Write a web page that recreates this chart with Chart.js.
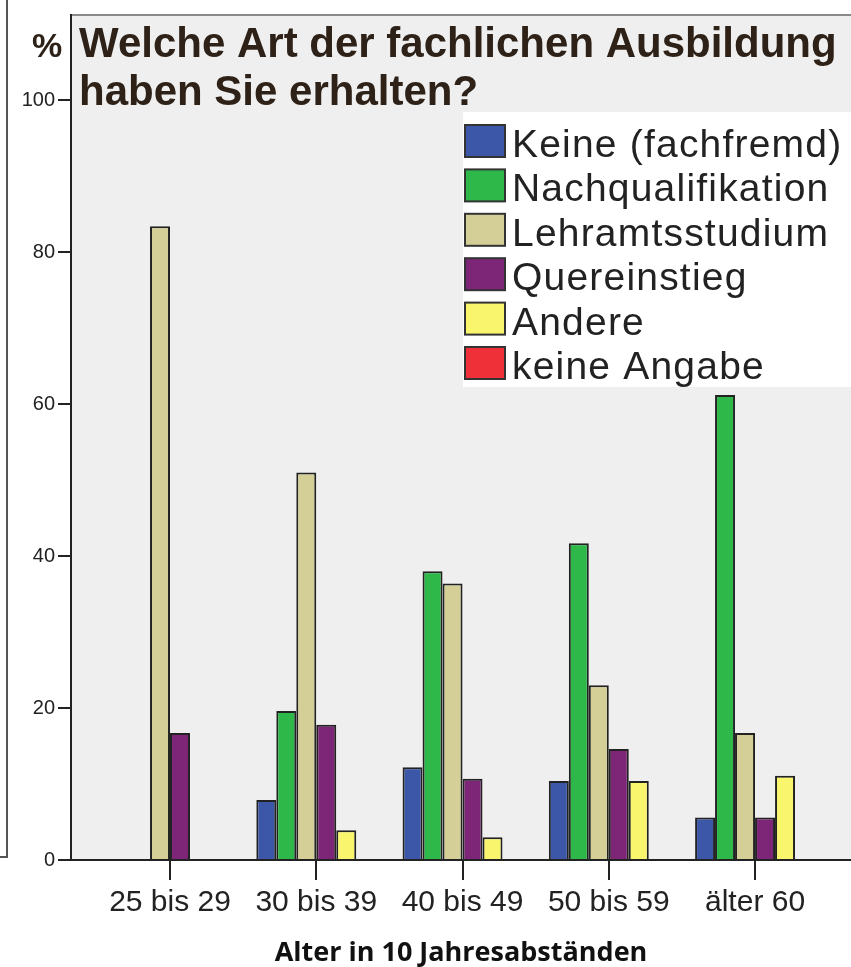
<!DOCTYPE html>
<html>
<head>
<meta charset="utf-8">
<script src="https://cdn.jsdelivr.net/npm/chart.js@4/dist/chart.umd.min.js"></script>
<style>
  body { margin: 0; background: #fff; }
  #wrap { position: relative; width: 851px; height: 967px; overflow: hidden; }
  #side { position: absolute; left: -10px; top: -10px; width: 14px; height: 864px; border: 2px solid #555; background: #fff; }
</style>
</head>
<body>
<div id="wrap">
  <div id="side"></div>
  <canvas id="chart" width="851" height="967"></canvas>
</div>
<script>
const categories = ['25 bis 29', '30 bis 39', '40 bis 49', '50 bis 59', 'älter 60'];
const seriesNames = ['Keine (fachfremd)', 'Nachqualifikation', 'Lehramtsstudium', 'Quereinstieg', 'Andere', 'keine Angabe'];
const keine = [0, 7.9, 12.2, 10.4, 5.6];
const nachqual = [0, 19.6, 38.0, 41.7, 61.2];
const lehramt = [83.4, 51.0, 36.4, 23.0, 16.7];
const quer = [16.7, 17.8, 10.7, 14.6, 5.6];
const andere = [0, 3.9, 3.0, 10.4, 11.1];
const keineAngabe = [0, 0, 0, 0, 0];
const yTicks = [0, 20, 40, 60, 80, 100];
const colors = ['#3c57a8', '#2eb84a', '#d3cf97', '#7d2677', '#f9f66e', '#ef3039'];

const allSeries = [keine, nachqual, lehramt, quer, andere, keineAngabe];

// plot background + top frame
const bgPlugin = {
    id: 'bg',
    beforeDraw(chart) {
        const { ctx, chartArea: a } = chart;
        ctx.save();
        ctx.fillStyle = '#efefef';
        ctx.fillRect(a.left, a.top, a.right - a.left, a.bottom - a.top);
        ctx.strokeStyle = '#8a8a8a';
        ctx.lineWidth = 2;
        ctx.beginPath();
        ctx.moveTo(a.left, a.top);
        ctx.lineTo(a.right, a.top);
        ctx.stroke();
        ctx.restore();
    }
};

// title and legend box drawn over the plot
const overlayPlugin = {
    id: 'overlay',
    afterDraw(chart) {
        const ctx = chart.ctx;
        ctx.save();
        ctx.fillStyle = '#2e2218';
        ctx.textBaseline = 'alphabetic';
        ctx.font = 'bold 34px "Liberation Sans", Arial, sans-serif';
        ctx.fillText('%', 32, 57);
        ctx.font = 'bold 42px "Liberation Sans", Arial, sans-serif';
        ctx.fillText('Welche Art der fachlichen Ausbildung', 79, 57);
        ctx.fillText('haben Sie erhalten?', 79, 105);

        ctx.fillStyle = '#ffffff';
        ctx.fillRect(463, 112, 388, 275);
        ctx.font = '39px "Liberation Sans", Arial, sans-serif';
        ctx.letterSpacing = '1.2px';
        chart.data.datasets.forEach((ds, i) => {
            const y = 125 + i * 44.4;
            ctx.fillStyle = ds.backgroundColor;
            ctx.fillRect(465, y, 40, 32);
            ctx.strokeStyle = '#333';
            ctx.lineWidth = 2;
            ctx.strokeRect(465, y, 40, 32);
            ctx.fillStyle = '#222';
            ctx.fillText(ds.label, 512, y + 32);
        });
        ctx.restore();
    }
};

new Chart(document.getElementById('chart'), {
    type: 'bar',
    data: {
        datasets: allSeries.map((vals, i) => ({
            label: seriesNames[i],
            data: vals.map((v, j) => ({ x: j, y: v })),
            backgroundColor: colors[i],
            borderColor: '#222',
            borderWidth: 2,
            barPercentage: 1,
            categoryPercentage: 0.82
        }))
    },
    options: {
        responsive: false,
        animation: false,
        layout: { padding: { top: 15, left: 0, right: 0, bottom: 0 } },
        plugins: { legend: { display: false }, tooltip: { enabled: false } },
        scales: {
            x: {
                type: 'linear',
                offset: false,
                min: -0.677,
                max: 4.656,
                afterBuildTicks: s => { s.ticks = categories.map((c, i) => ({ value: i })); },
                afterFit: s => { s.height = 107; },
                ticks: {
                    callback: v => categories[v],
                    color: '#222',
                    padding: 5,
                    maxRotation: 0,
                    autoSkip: false,
                    font: { family: '"Liberation Sans", Arial, sans-serif', size: 30 }
                },
                grid: { offset: false, drawOnChartArea: false, tickLength: 20, color: '#222', lineWidth: 2 },
                border: { color: '#222', width: 2 },
                title: {
                    display: true,
                    text: 'Alter in 10 Jahresabständen',
                    color: '#111',
                    padding: { top: 6, bottom: 0 },
                    font: { family: '"Open Sans", sans-serif', size: 27, weight: 'bold', lineHeight: 1 }
                }
            },
            y: {
                min: 0,
                max: 111.2,
                afterBuildTicks: s => { s.ticks = yTicks.map(v => ({ value: v })); },
                afterFit: s => { s.width = 71; },
                ticks: {
                    color: '#222',
                    padding: 3,
                    font: { family: '"Liberation Sans", Arial, sans-serif', size: 20 }
                },
                grid: { drawOnChartArea: false, tickLength: 13, color: '#222', lineWidth: 2 },
                border: { color: '#222', width: 2 }
            }
        }
    },
    plugins: [bgPlugin, overlayPlugin]
});
</script>
</body>
</html>
